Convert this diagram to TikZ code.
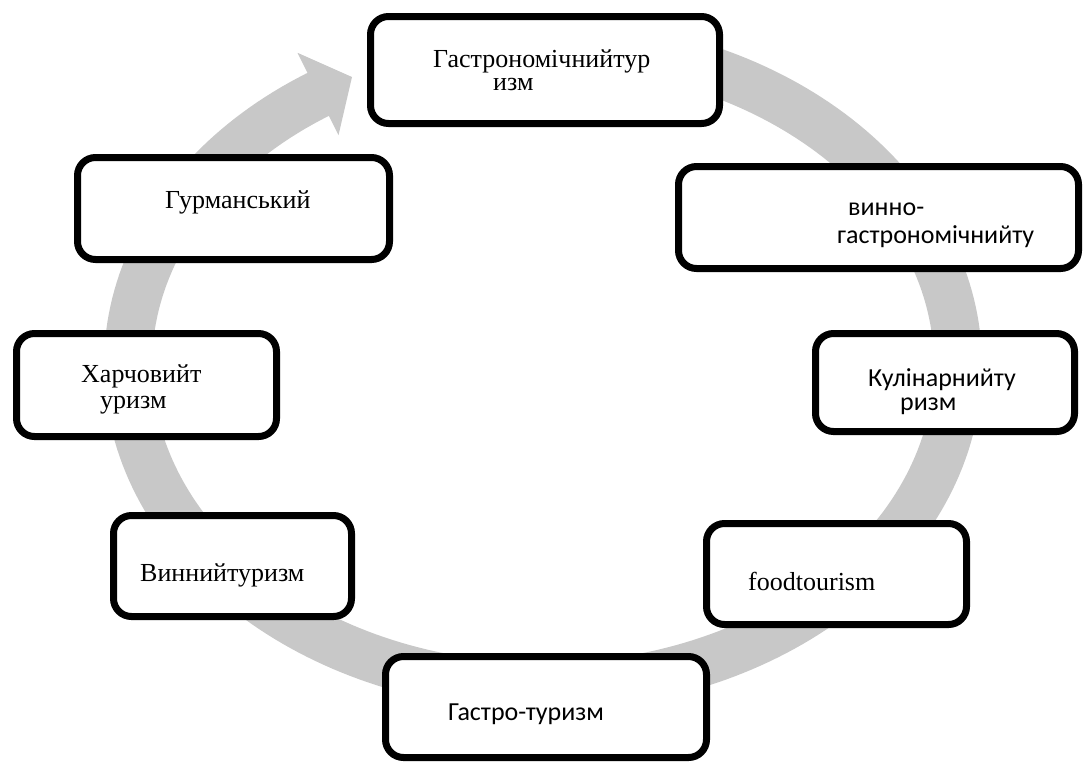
\documentclass[tikz,border=0pt]{standalone}
\usepackage{fontspec}
\setmainfont{Liberation Serif}
\newfontfamily\calibrifont{Carlito}
\usetikzlibrary{shadows}
\definecolor{ringgray}{HTML}{C8C8C8}

\begin{document}
\begin{tikzpicture}[x=1pt, y=-1pt,
    box/.style={rectangle, rounded corners=18pt, draw=black, line width=7pt, fill=white, inner sep=0pt,
        drop shadow={shadow xshift=2pt, shadow yshift=-3pt, opacity=0.25}},
    lbl/.style={anchor=base west, inner sep=0pt, font=\fontsize{26}{26}\selectfont},
    lblc/.style={lbl, font=\calibrifont\fontsize{26}{26}\selectfont},
    ring/.style={ringgray, line width=48pt}
]
\useasboundingbox (0,0) rectangle (1083,761);

% circular arrow behind the boxes
\draw[ring] plot[domain=75:-238.2, samples=240] ({543+415*cos(\x)}, {365-322*sin(\x)});
\coordinate (headL) at (297.5,52.8);
\coordinate (headR) at (338.5,135.2);
\coordinate (headtip) at (352,77);
\fill[ringgray] (headL) -- (headtip) -- (headR) -- cycle;

\node[box, minimum width=349pt, minimum height=107pt] (gastro) at (545,70) {};
\node[box, minimum width=400pt, minimum height=102pt] (wine) at (878.5,217.5) {};
\node[box, minimum width=259pt, minimum height=98pt] (culin) at (945,382.5) {};
\node[box, minimum width=260pt, minimum height=101pt] (food) at (836.5,574) {};
\node[box, minimum width=321pt, minimum height=101pt] (gastroshort) at (546,707) {};
\node[box, minimum width=238pt, minimum height=101pt] (vinn) at (232.5,566) {};
\node[box, minimum width=260pt, minimum height=103pt] (kharch) at (146.5,385) {};
\node[box, minimum width=312pt, minimum height=102pt] (gurm) at (233.5,208.5) {};

% labels
\node[lbl] (gastroA) at (433,67) {Гастрономічнийтур};
\node[lbl] (gastroB) at (493,90) {изм};
\node[lblc] (wineA) at (848,215) {винно-};
\node[lblc] (wineB) at (837,243) {гастрономічнийту};
\node[lblc] (culinA) at (868,386) {Кулінарнийту};
\node[lblc] (culinB) at (900,410) {ризм};
\node[lbl] (foodA) at (748,590) {foodtourism};
\node[lblc] (gastroshortA) at (448,720) {Гастро-туризм};
\node[lbl] (vinnA) at (140,581) {Виннийтуризм};
\node[lbl] (kharchA) at (81,382) {Харчовийт};
\node[lbl] (kharchB) at (100,408) {уризм};
\node[lbl] (gurmA) at (165,208) {Гурманський};

\end{tikzpicture}
\end{document}
